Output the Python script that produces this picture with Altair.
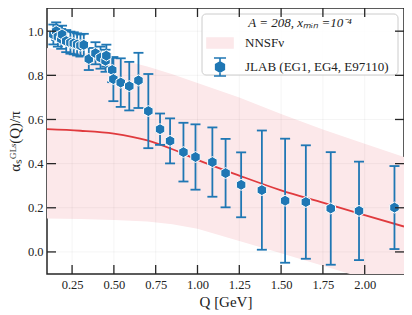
import altair as alt
import pandas as pd

# ---------------- data ----------------
q = [0.138, 0.155, 0.165, 0.185, 0.19, 0.215, 0.24, 0.26, 0.28, 0.30, 0.32, 0.35,
     0.39, 0.42, 0.45, 0.455, 0.49, 0.497, 0.541, 0.592, 0.647, 0.706, 0.776,
     0.836, 0.916, 0.988, 1.089, 1.168, 1.261, 1.385, 1.524, 1.648, 1.797,
     1.966, 2.178]
val = [0.985, 1.0, 0.975, 0.965, 0.985, 0.955, 0.948, 0.945, 0.94, 0.935, 0.938,
       0.874, 0.9, 0.88, 0.866, 0.889, 0.824, 0.783, 0.767, 0.751, 0.777, 0.638,
       0.556, 0.503, 0.452, 0.43, 0.407, 0.357, 0.304, 0.28, 0.232, 0.226, 0.197,
       0.186, 0.201]
err = [0.045, 0.04, 0.045, 0.045, 0.04, 0.05, 0.05, 0.05, 0.05, 0.05, 0.05, 0.05,
       0.05, 0.05, 0.05, 0.05, 0.055, 0.1, 0.11, 0.11, 0.125, 0.168, 0.071, 0.102,
       0.133, 0.148, 0.157, 0.155, 0.147, 0.27, 0.281, 0.257, 0.255, 0.223, 0.188]

band_q = [0.10, 0.30, 0.50, 0.70, 0.85, 1.00, 1.25, 1.50, 1.75, 2.00, 2.235]
band_lo = [0.151, 0.149, 0.145, 0.138, 0.125, 0.105, 0.05, -0.006, -0.063, -0.12, -0.17]
band_hi = [0.924, 0.905, 0.878, 0.84, 0.805, 0.765, 0.70, 0.625, 0.555, 0.49, 0.43]
central = [0.556, 0.549, 0.536, 0.505, 0.465, 0.417, 0.346, 0.279, 0.223, 0.167, 0.115]

xticks = [0.25, 0.50, 0.75, 1.00, 1.25, 1.50, 1.75, 2.00]
yticks = [0.0, 0.2, 0.4, 0.6, 0.8, 1.0]

NN = "NNSFν"
JL = "JLAB (EG1, EG4, E97110)"
series = [NN, JL]

# ---------------- styling ----------------
W, H = 357, 266
TL = 9  # inward tick length
BLUE = "#1f77b4"
PINK = "#fce8ea"
RED = "#e03a3e"
FRAME = "#262626"
FONT = "Liberation Serif"
HEX = "M0,-1L0.866,-0.5L0.866,0.5L0,1L-0.866,0.5L-0.866,-0.5Z"
LEG_HEX = ("M0,-0.714L0.619,-0.357L0.619,0.357L0,0.714L-0.619,0.357L-0.619,-0.357Z"
           "M0,-1.29L0,1.29M-0.86,-1.29L0.86,-1.29M-0.86,1.29L0.86,1.29")
LEG_RECT = "M-1.86,-0.71L1.86,-0.71L1.86,0.71L-1.86,0.71Z"

pts = pd.DataFrame({"Q": q, "v": val,
                    "lo": [a - b for a, b in zip(val, err)],
                    "hi": [a + b for a, b in zip(val, err)]})
band = pd.DataFrame({"Q": band_q, "lo": band_lo, "hi": band_hi, "c": central})
xt = pd.DataFrame({"t": xticks})
yt = pd.DataFrame({"t": yticks})
leg = pd.DataFrame({"series": series})

xs = alt.Scale(domain=[0.1, 2.235], nice=False, zero=False)
ys = alt.Scale(domain=[-0.1, 1.105], nice=False, zero=False)

legend = alt.Legend(
    title="A = 208, xₘᵢₙ =10⁻⁴", orient="none", legendX=165, legendY=9,
    padding=0, titleFont=FONT, titleFontSize=13, titleFontStyle="italic",
    titleFontWeight="normal", titleColor="#222", titleAnchor="middle", titlePadding=5,
    labelFont=FONT, labelFontSize=13, labelColor="#222", symbolSize=196,
    symbolOpacity=1, symbolStrokeWidth=1.6,
    labelOffset=17, rowPadding=2,
)

xaxis = alt.Axis(values=xticks, format=".2f", title="Q [GeV]", labelPadding=4,
                 titlePadding=4, labelOverlap=False)
yaxis = alt.Axis(values=yticks, format=".1f", title="αₛᴳᴸˢ(Q)/π", labelPadding=4,
                 titlePadding=5, labelOverlap=False)

area = alt.Chart(band).mark_area(fill=PINK, opacity=1, clip=True).encode(
    x=alt.X("Q:Q", scale=xs, axis=xaxis),
    y=alt.Y("lo:Q", scale=ys, axis=yaxis),
    y2="hi:Q",
)
g_x = alt.Chart(xt).mark_rule(color="black", opacity=0.06, strokeWidth=0.8).encode(
    x="t:Q", y=alt.value(0), y2=alt.value(H))
g_y = alt.Chart(yt).mark_rule(color="black", opacity=0.06, strokeWidth=0.8).encode(
    y="t:Q", x=alt.value(0), x2=alt.value(W))
line = alt.Chart(band).mark_line(color=RED, strokeWidth=1.8, interpolate="monotone",
                                 clip=True).encode(x="Q:Q", y="c:Q")
bars = alt.Chart(pts).mark_rule(color=BLUE, strokeWidth=1.8).encode(
    x="Q:Q", y="lo:Q", y2="hi:Q")
cap_hi = alt.Chart(pts).mark_tick(orient="horizontal", size=10, thickness=1.8,
                                  color=BLUE, opacity=1).encode(x="Q:Q", y="hi:Q")
cap_lo = alt.Chart(pts).mark_tick(orient="horizontal", size=10, thickness=1.8,
                                  color=BLUE, opacity=1).encode(x="Q:Q", y="lo:Q")
points = alt.Chart(pts).mark_point(filled=True, shape=HEX, size=121, fill=BLUE,
                                   stroke="white", strokeWidth=1, opacity=1).encode(
    x="Q:Q", y="v:Q")

legbox = alt.Chart(pd.DataFrame({"a": [0]})).mark_rect(
    fill="white", fillOpacity=0.85, stroke="#cccccc", strokeWidth=1, cornerRadius=4
).encode(x=alt.value(155), x2=alt.value(351), y=alt.value(6), y2=alt.value(67))

# legend-only layer (no visible marks): fill / stroke / shape share one legend
legdummy = alt.Chart(leg).mark_point(filled=True, strokeWidth=1.6, opacity=1).encode(
    fill=alt.Fill("series:N", scale=alt.Scale(domain=series, range=[PINK, BLUE]), legend=legend),
    stroke=alt.Stroke("series:N", scale=alt.Scale(domain=series, range=[PINK, BLUE]), legend=legend),
    shape=alt.Shape("series:N", scale=alt.Scale(domain=series, range=[LEG_RECT, LEG_HEX]), legend=legend),
).transform_filter("datum.series == 'none'")

tk = dict(color=FRAME, strokeWidth=1.3)
t_bottom = alt.Chart(xt).mark_rule(**tk).encode(x="t:Q", y=alt.value(H), y2=alt.value(H - TL))
t_top = alt.Chart(xt).mark_rule(**tk).encode(x="t:Q", y=alt.value(0), y2=alt.value(TL))
t_left = alt.Chart(yt).mark_rule(**tk).encode(y="t:Q", x=alt.value(0), x2=alt.value(TL))
t_right = alt.Chart(yt).mark_rule(**tk).encode(y="t:Q", x=alt.value(W), x2=alt.value(W - TL))

chart = alt.layer(area, g_x, g_y, line, bars, cap_hi, cap_lo, points, legbox, legdummy,
                  t_bottom, t_top, t_left, t_right).properties(
    width=W, height=H,
    padding={"left": 39, "top": 0, "right": 0, "bottom": 40},
    autosize=alt.AutoSizeParams(type="none"),
).configure(font=FONT).configure_axis(
    labelFont=FONT, labelFontSize=12.5, labelColor="#222",
    titleFont=FONT, titleFontSize=15, titleFontWeight="normal", titleColor="#222",
    grid=False, domain=False, ticks=False, tickSize=0,
).configure_view(stroke=FRAME, strokeWidth=1.5)

chart.save("out.html", embed_options={"renderer": "svg", "actions": False})
